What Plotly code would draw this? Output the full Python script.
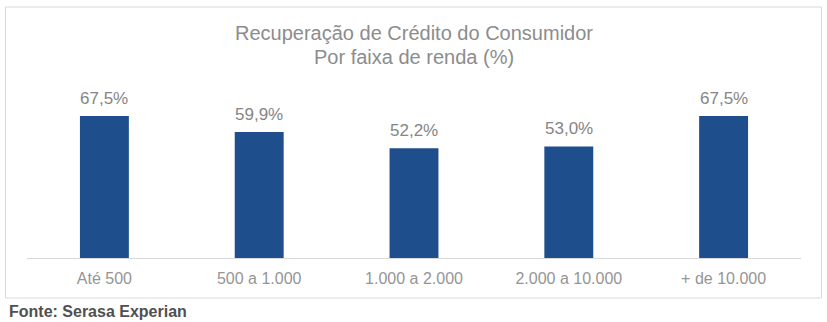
import plotly.graph_objects as go

categories = ["Até 500", "500 a 1.000", "1.000 a 2.000", "2.000 a 10.000", "+ de 10.000"]
values = [67.5, 59.9, 52.2, 53.0, 67.5]
labels = ["67,5%", "59,9%", "52,2%", "53,0%", "67,5%"]

W, H = 827, 322
L, R, T, B = 26.5, 25.5, 90, 64
pw = W - L - R
ph = H - T - B

def px_x(x):
    return (x - L) / pw

def px_y(y):
    return (H - B - y) / ph

fig = go.Figure()
fig.add_trace(go.Bar(
    x=categories, y=values,
    marker=dict(color="#1F4E8C", line=dict(width=0)),
    width=0.316,
    hoverinfo="skip",
))

for c, v, t in zip(categories, values, labels):
    fig.add_annotation(x=c, y=v, text=t, showarrow=False, yanchor="bottom",
                       yshift=6, font=dict(family="Liberation Sans, Arial", size=17, color="#858585"))

fig.add_annotation(xref="paper", yref="paper", x=0.5, y=px_y(33), text="Recuperação de Crédito do Consumidor",
                   showarrow=False, xanchor="center", yanchor="middle",
                   font=dict(family="Liberation Sans, Arial", size=20, color="#8C8C8C"))
fig.add_annotation(xref="paper", yref="paper", x=0.5, y=px_y(57), text="Por faixa de renda (%)",
                   showarrow=False, xanchor="center", yanchor="middle",
                   font=dict(family="Liberation Sans, Arial", size=20, color="#8C8C8C"))
fig.add_annotation(xref="paper", yref="paper", x=px_x(6), y=px_y(311), text="<b>Fonte: Serasa Experian</b>",
                   showarrow=False, xanchor="left", yanchor="middle",
                   font=dict(family="Liberation Sans, Arial", size=16, color="#505050"))

fig.add_shape(type="rect", xref="paper", yref="paper",
              x0=px_x(5), x1=px_x(822), y0=px_y(298), y1=px_y(7),
              line=dict(color="#D9D9D9", width=1), fillcolor="rgba(0,0,0,0)", layer="below")

fig.update_layout(
    width=W, height=H,
    margin=dict(l=L, r=R, t=T, b=B, pad=0),
    paper_bgcolor="white", plot_bgcolor="white",
    showlegend=False,
    xaxis=dict(showline=True, linecolor="#D9D9D9", linewidth=1, ticks="",
               tickfont=dict(family="Liberation Sans, Arial", size=16, color="#959595"),
               ticklabelstandoff=6, fixedrange=True),
    yaxis=dict(range=[0, ph / 2.104], visible=False, showgrid=False, zeroline=False, fixedrange=True),
)

fig.write_html("out.html", config={"displayModeBar": False})
